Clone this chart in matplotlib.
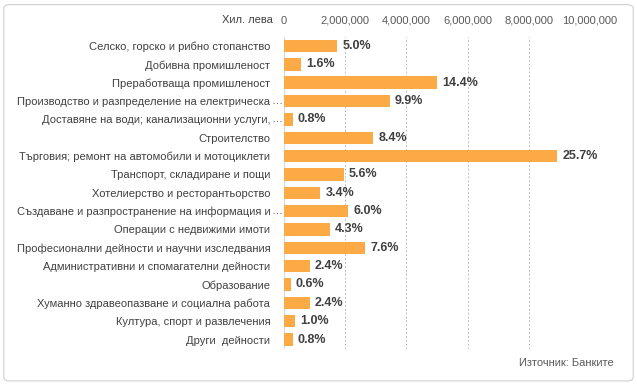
import matplotlib.pyplot as plt
from matplotlib.patches import FancyBboxPatch
from matplotlib.ticker import FuncFormatter
from matplotlib import transforms

plt.rcParams['font.family'] = ['Liberation Sans', 'DejaVu Sans']

categories = [
    'Селско, горско и рибно стопанство',
    'Добивна промишленост',
    'Преработваща промишленост',
    'Производство и разпределение на електрическа…',
    'Доставяне на води; канализационни услуги,…',
    'Строителство',
    'Търговия; ремонт на автомобили и мотоциклети',
    'Транспорт, складиране и пощи',
    'Хотелиерство и ресторантьорство',
    'Създаване и разпространение на информация и…',
    'Операции с недвижими имоти',
    'Професионални дейности и научни изследвания',
    'Административни и спомагателни дейности',
    'Образование',
    'Хуманно здравеопазване и социална работа',
    'Култура, спорт и развлечения',
    'Други  дейности',
]
# thousand BGN
values = [1740000, 560000, 5010000, 3450000, 280000, 2920000, 8940000,
          1950000, 1180000, 2090000, 1500000, 2640000, 840000, 210000,
          840000, 350000, 280000]
shares = ['5.0%', '1.6%', '14.4%', '9.9%', '0.8%', '8.4%', '25.7%', '5.6%',
          '3.4%', '6.0%', '4.3%', '7.6%', '2.4%', '0.6%', '2.4%', '1.0%', '0.8%']

fig = plt.figure(figsize=(6.37, 3.84), dpi=100)
ax = fig.add_axes([0.446, 0.092, 0.48, 0.812])

y = range(len(categories))
ax.barh(y, values, height=0.68, color='#FBAA45', zorder=2)
ax.set_ylim(len(categories) - 0.5, -0.5)
ax.set_xlim(0, 10000000)

for i, (v, s) in enumerate(zip(values, shares)):
    ax.text(v + 170000, i, s, va='center', ha='left', fontsize=9,
            fontweight='bold', color='#404040')

# truncated labels: the ellipsis hangs past the right-aligned text
ylabels = [c.rstrip('…') for c in categories]
ell_tr = transforms.offset_copy(ax.get_yaxis_transform(), fig=fig, x=-13, y=0, units='dots')
for i, c in enumerate(categories):
    if c.endswith('…'):
        ax.text(0, i, '…', transform=ell_tr, ha='left', va='center',
                fontsize=8, color='#404040')

ax.set_yticks(list(y))
ax.set_yticklabels(ylabels, fontsize=8, color='#404040')
ax.xaxis.tick_top()
ax.set_xticks(range(0, 10000001, 2000000))
ax.xaxis.set_major_formatter(FuncFormatter(lambda v, p: f'{int(v):,}'))
ax.tick_params(axis='x', labelsize=8, labelcolor='#595959', length=0, pad=8)
ax.tick_params(axis='y', length=0, pad=10)
for s in ax.spines.values():
    s.set_visible(False)
ax.axvline(0, color='#D9D9D9', lw=0.8, zorder=1)
for gx in range(2000000, 10000001, 2000000):
    ax.axvline(gx, color='#BFBFBF', lw=0.7, ls=(0, (2, 2)), zorder=1)

fig.text(0.428, 0.948, 'Хил. лева', fontsize=8, color='#404040', ha='right', va='center')
fig.text(0.963, 0.055, 'Източник: Банките', fontsize=8, color='#595959', ha='right', va='center')

border = FancyBboxPatch((0.006, 0.008), 0.988, 0.98, boxstyle='round,pad=0,rounding_size=0.01',
                        transform=fig.transFigure, fill=False, edgecolor='#D0D0D0', lw=0.8)
fig.patches.append(border)

fig.savefig('out.png', dpi=100)
